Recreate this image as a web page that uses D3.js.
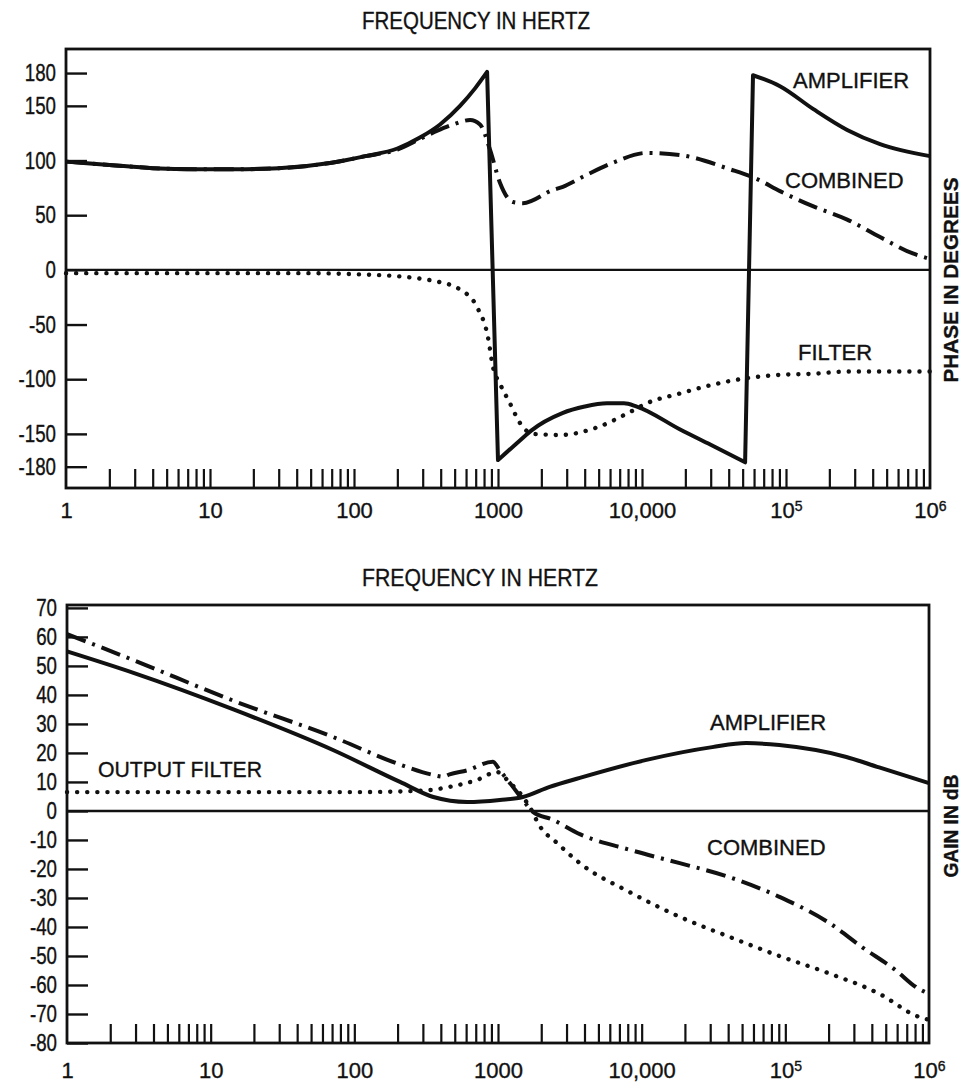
<!DOCTYPE html>
<html><head><meta charset="utf-8">
<script src="https://cdn.jsdelivr.net/npm/d3@7"></script>
<style>
body{margin:0;background:#fff;}
svg{display:block;background:#fff;}
text{font-family:"Liberation Sans",Arial,sans-serif;fill:#111;stroke:#111;stroke-width:0.35px;}
</style></head><body>
<svg id="chart" width="962" height="1084"></svg>
<script>
// ---------------- DATA ----------------
const decadeTicks  = [1, 10, 100, 1000, 10000, 1e5, 1e6];
const decadeLabels = ["1", "10", "100", "1000", "10,000", "10|5", "10|6"];
const phaseTicks = [180, 150, 100, 50, 0, -50, -100, -150, -180];
const gainTicks  = [70, 60, 50, 40, 30, 20, 10, 0, -10, -20, -30, -40, -50, -60, -70, -80];

// Amplifier phase (three pieces joined by the vertical wraps)
const ampPhaseLow = [[1,99],[2,96],[4,93],[8,92],[15,92],[30,93],[70,98],[120,104],[200,111],
  [287,121],[396,133],[545,150],[693,166],[840,181]];
const ampPhaseMid = [[1000,-174],[1420,-156],[1700,-147],[2800,-131],[4000,-125],[5700,-122],
  [7500,-122],[9200,-125],[18400,-146],[30000,-160],[52000,-176]];
const ampPhaseHigh = [[59000,178],[90800,168],[155000,147],[266000,128],[450000,115],[1000000,104]];

const combPhase = [[1,99],[2,96],[4,93],[8,92],[15,92],[30,93],[70,98],[120,104],[200,110],
  [290,120],[376,127],[490,133],[640,137],[750,133],[880,110],[1030,80],[1270,62],[1490,61],
  [2400,73],[2820,76],[4000,86],[6300,98],[10800,107],[18400,105],[40800,92],[63000,83],
  [90800,72],[155000,58],[266000,46],[450000,30],[760000,15],[1000000,10]];

const filtPhase = [[1,-3],[10,-3],[50,-3],[100,-4],[208,-6],[287,-8],[356,-10],[545,-18],
  [715,-34],[850,-61],[923,-89],[1030,-104],[1210,-122],[1420,-140],[1750,-150],[2680,-151],
  [4890,-144],[8260,-130],[10800,-122],[18400,-113],[31000,-105],[53500,-99],[90800,-96],
  [155000,-95],[266000,-93],[1000000,-93]];

// Gain in dB
const ampGain = [[1,55],[2.9,47.6],[14.4,35],[71,21],[208,10],[355,4.8],[610,3.1],[1030,3.8],
  [1490,4.8],[2290,8.3],[3710,11.4],[10800,17.6],[31000,22],[53500,23.4],[90800,22.7],
  [266000,18.6],[450000,15],[1000000,9.6]];

const combGain = [[1,61],[2.9,52],[14.4,38],[71,25.5],[208,16],[355,12.4],[415,11.8],[460,12.6],
  [610,14],[920,17],[1030,14],[1270,8.3],[1490,3.8],[1750,-0.3],[2400,-3],[3710,-8],[8260,-13.4],
  [18400,-18],[40800,-22.8],[90800,-29.6],[202000,-38.6],[343000,-47],[590000,-55],[810000,-60.7],
  [1000000,-63]];

const filtGain = [[1,6.5],[10,6.5],[100,6.5],[300,7],[460,8.3],[715,10.7],[985,13.4],[1210,9.7],
  [1420,6.2],[1660,1.4],[1970,-5.5],[2570,-11],[3710,-18],[8260,-28],[18400,-36.5],[40800,-43.4],
  [90800,-50],[202000,-56],[450000,-63],[850000,-71],[1000000,-72]];

// ---------------- DRAWING ----------------
const svg = d3.select("#chart");
const INK = "#111";

const minorTicks = [];
for (let d = 0; d < 6; d++) for (let k = 2; k <= 10; k++) {
  const v = k * Math.pow(10, d);
  if (v < 1e6) minorTicks.push(v);
}

function drawPanel(cfg) {
  const x = d3.scaleLog().domain([1, 1e6]).range([cfg.left, cfg.right]);
  const y = d3.scaleLinear().domain(cfg.yDomain).range([cfg.bottom, cfg.top]);
  const g = svg.append("g").attr("color", INK);

  // title
  g.append("text").attr("x", cfg.titleX).attr("y", cfg.titleY)
    .attr("text-anchor", "middle").attr("font-size", 24)
    .attr("textLength", cfg.titleLen).attr("lengthAdjust", "spacingAndGlyphs")
    .text("FREQUENCY IN HERTZ");

  // minor x ticks (inward)
  const xm = g.append("g").attr("transform", `translate(0,${cfg.bottom})`)
    .call(d3.axisBottom(x).tickValues(minorTicks).tickSize(-19).tickFormat(""));
  xm.select(".domain").remove();
  xm.selectAll("line").attr("stroke-width", 2.2);

  // decade labels
  const xl = g.append("g").attr("transform", `translate(0,${cfg.bottom})`)
    .call(d3.axisBottom(x).tickValues(decadeTicks).tickSize(0).tickPadding(cfg.xPad)
      .tickFormat((d, i) => decadeLabels[i]));
  xl.select(".domain").remove();
  xl.selectAll("text").attr("font-size", 22).attr("font-family", '"Liberation Sans",Arial,sans-serif')
    .each(function() {
      const t = d3.select(this), s = t.text();
      if (s.includes("|")) {
        const [base, exp] = s.split("|");
        t.text(base);
        t.append("tspan").attr("dy", "-0.45em").attr("font-size", 14).text(exp);
      }
    });

  // y axis ticks (inward) and labels (condensed)
  const ya = g.append("g").attr("transform", `translate(${cfg.left},0)`)
    .call(d3.axisLeft(y).tickValues(cfg.yTicks).tickSize(-21).tickPadding(10)
      .tickFormat(d => String(d)));
  ya.select(".domain").remove();
  ya.selectAll("line").attr("stroke-width", 2.4);
  ya.selectAll("text").attr("font-size", 24).attr("font-family", '"Liberation Sans",Arial,sans-serif')
    .each(function() {
      const w = this.getComputedTextLength();
      d3.select(this).attr("textLength", w * 0.78).attr("lengthAdjust", "spacingAndGlyphs");
    });

  // frame
  g.append("rect").attr("x", cfg.left).attr("y", cfg.top)
    .attr("width", cfg.right - cfg.left).attr("height", cfg.bottom - cfg.top)
    .attr("fill", "none").attr("stroke", INK).attr("stroke-width", 2.8);

  // zero line
  g.append("line").attr("x1", cfg.left).attr("x2", cfg.right)
    .attr("y1", y(0)).attr("y2", y(0)).attr("stroke", INK).attr("stroke-width", 2.4);

  const line = d3.line().x(d => x(d[0])).y(d => y(d[1])).curve(d3.curveMonotoneX);
  const joined = segs => segs.map((s, i) => { const p = line(s); return i === 0 ? p : "L" + p.slice(1); }).join("");

  cfg.series.forEach(s => {
    g.append("path").attr("d", joined(s.segs)).attr("fill", "none")
      .attr("stroke", INK).attr("stroke-width", s.width)
      .attr("stroke-dasharray", s.dash || null)
      .attr("stroke-linecap", s.cap || "butt").attr("stroke-linejoin", "round");
  });

  // series labels
  cfg.labels.forEach(l => {
    const t = g.append("text").attr("x", l.x).attr("y", l.y).attr("font-size", 22).text(l.text);
    if (l.len) t.attr("textLength", l.len).attr("lengthAdjust", "spacingAndGlyphs");
  });

  // right axis title
  g.append("text").attr("transform", `translate(${cfg.sideX},${cfg.sideY}) rotate(-90)`)
    .attr("text-anchor", "middle").attr("dominant-baseline", "central")
    .attr("font-size", 20).attr("font-weight", "bold")
    .attr("textLength", cfg.sideLen).attr("lengthAdjust", "spacingAndGlyphs")
    .text(cfg.sideText);
}

const SOLID = {width: 4};
const DASHDOT = {width: 4, dash: "20,7,3,7"};
const DOTTED = {width: 4.4, dash: "0.1,10", cap: "round"};

drawPanel({
  left: 66, right: 930, top: 49, bottom: 488,
  yDomain: [-199.5, 202], yTicks: phaseTicks,
  titleX: 476, titleY: 29, titleLen: 228, xPad: 14,
  sideX: 951, sideY: 280, sideText: "PHASE IN DEGREES", sideLen: 205,
  series: [
    Object.assign({segs: [filtPhase]}, DOTTED),
    Object.assign({segs: [combPhase]}, DASHDOT),
    Object.assign({segs: [ampPhaseLow, ampPhaseMid, ampPhaseHigh]}, SOLID)
  ],
  labels: [
    {text: "AMPLIFIER", x: 793, y: 88},
    {text: "COMBINED", x: 785, y: 188},
    {text: "FILTER", x: 798, y: 360}
  ]
});

drawPanel({
  left: 67, right: 929, top: 605, bottom: 1043,
  yDomain: [-80, 71], yTicks: gainTicks,
  titleX: 480, titleY: 586, titleLen: 236, xPad: 19,
  sideX: 951, sideY: 826, sideText: "GAIN IN dB", sideLen: 103,
  series: [
    Object.assign({segs: [filtGain]}, DOTTED),
    Object.assign({segs: [combGain]}, DASHDOT),
    Object.assign({segs: [ampGain]}, SOLID)
  ],
  labels: [
    {text: "AMPLIFIER", x: 710, y: 730},
    {text: "OUTPUT FILTER", x: 98, y: 777, len: 164},
    {text: "COMBINED", x: 707, y: 855}
  ]
});
</script>
</body></html>
